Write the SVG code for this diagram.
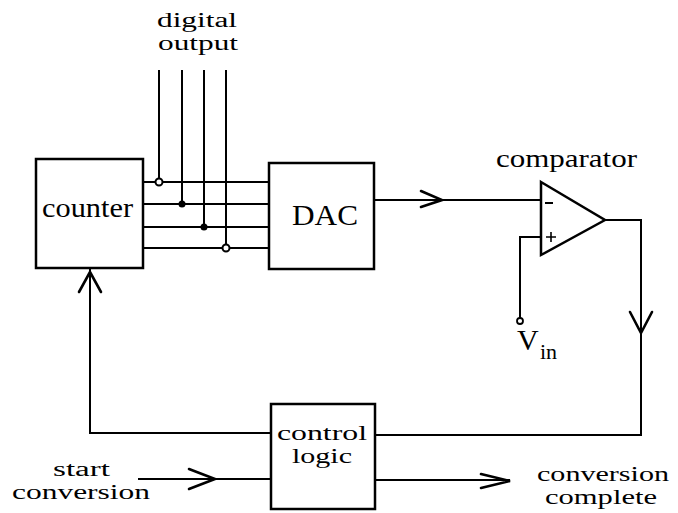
<svg xmlns="http://www.w3.org/2000/svg" width="678" height="513" viewBox="0 0 678 513">
<style>
.box{fill:#fff;stroke:#000;stroke-width:2.5}
.ln{fill:none;stroke:#000;stroke-width:2}
.ar{fill:none;stroke:#000;stroke-width:2.6;stroke-linecap:round;stroke-linejoin:miter}
text{font-family:"Liberation Serif","Times New Roman",serif;fill:#000}
.t{font-size:20.5px}
</style>
<rect width="678" height="513" fill="#fff"/>
<g id="connectors">
  <path class="ln" d="M143,182 H269 M143,204 H269 M143,227 H269 M143,248 H269"/>
  <path class="ln" d="M159,70 V182 M182,70 V204 M204,70 V227 M226,70 V248"/>
  <circle cx="159" cy="182" r="3.5" fill="#fff" stroke="#000" stroke-width="2"/>
  <circle cx="182" cy="204" r="3.5" fill="#000"/>
  <circle cx="204" cy="227" r="3.5" fill="#000"/>
  <circle cx="226" cy="248" r="3.5" fill="#fff" stroke="#000" stroke-width="2"/>
  <path class="ln" d="M374,200 H541"/>
  <path class="ar" d="M421,191 L442,200 L421,207"/>
  <path class="ln" d="M605,220 H641 V435 H375"/>
  <path class="ar" d="M630,312 L641,333 L652,312"/>
  <path class="ln" d="M541,237 H520 V318"/>
  <circle cx="520" cy="321" r="3" fill="#fff" stroke="#000" stroke-width="1.8"/>
  <path class="ln" d="M270,433 H90 V269"/>
  <path class="ar" d="M79,292 L90,272 L101,292"/>
  <path class="ln" d="M138,479 H270"/>
  <path class="ar" d="M189,469 L215,479 L189,489"/>
  <path class="ln" d="M375,480 H510"/>
  <path class="ar" d="M481,474 L510,481 L481,488"/>
</g>
<g id="counter">
  <rect class="box" x="36" y="159" width="107" height="109"/>
  <text x="42" y="217" font-size="27" textLength="91" lengthAdjust="spacingAndGlyphs">counter</text>
</g>
<g id="dac">
  <rect class="box" x="269" y="163" width="105" height="106"/>
  <text x="292" y="225" font-size="30" textLength="66" lengthAdjust="spacingAndGlyphs">DAC</text>
</g>
<g id="comparator">
  <path d="M541,182 L605,220 L541,255 Z" fill="#fff" stroke="#000" stroke-width="2.5" stroke-linejoin="miter"/>
  <path class="ln" d="M545,203 H553"/>
  <path d="M546,237 H556 M551,232 V242" stroke="#000" stroke-width="1.6" fill="none"/>
  <text x="496" y="167" font-size="26" textLength="141" lengthAdjust="spacingAndGlyphs">comparator</text>
</g>
<g id="vin">
  <text x="517" y="350" font-size="30">V</text>
  <text x="540" y="359" font-size="22">in</text>
</g>
<g id="control-logic">
  <rect class="box" x="271" y="404" width="104" height="105"/>
  <text class="t" x="277" y="440" textLength="90" lengthAdjust="spacingAndGlyphs">control</text>
  <text class="t" x="292" y="463" textLength="60" lengthAdjust="spacingAndGlyphs">logic</text>
</g>
<g id="digital-output">
  <text class="t" x="157" y="27" textLength="80" lengthAdjust="spacingAndGlyphs">digital</text>
  <text class="t" x="158" y="50" textLength="80" lengthAdjust="spacingAndGlyphs">output</text>
</g>
<g id="start-conversion">
  <text class="t" x="53" y="476" textLength="57" lengthAdjust="spacingAndGlyphs">start</text>
  <text class="t" x="12" y="499" textLength="138" lengthAdjust="spacingAndGlyphs">conversion</text>
</g>
<g id="conversion-complete">
  <text class="t" x="537" y="481" textLength="132" lengthAdjust="spacingAndGlyphs">conversion</text>
  <text class="t" x="545" y="504" textLength="112" lengthAdjust="spacingAndGlyphs">complete</text>
</g>
</svg>
